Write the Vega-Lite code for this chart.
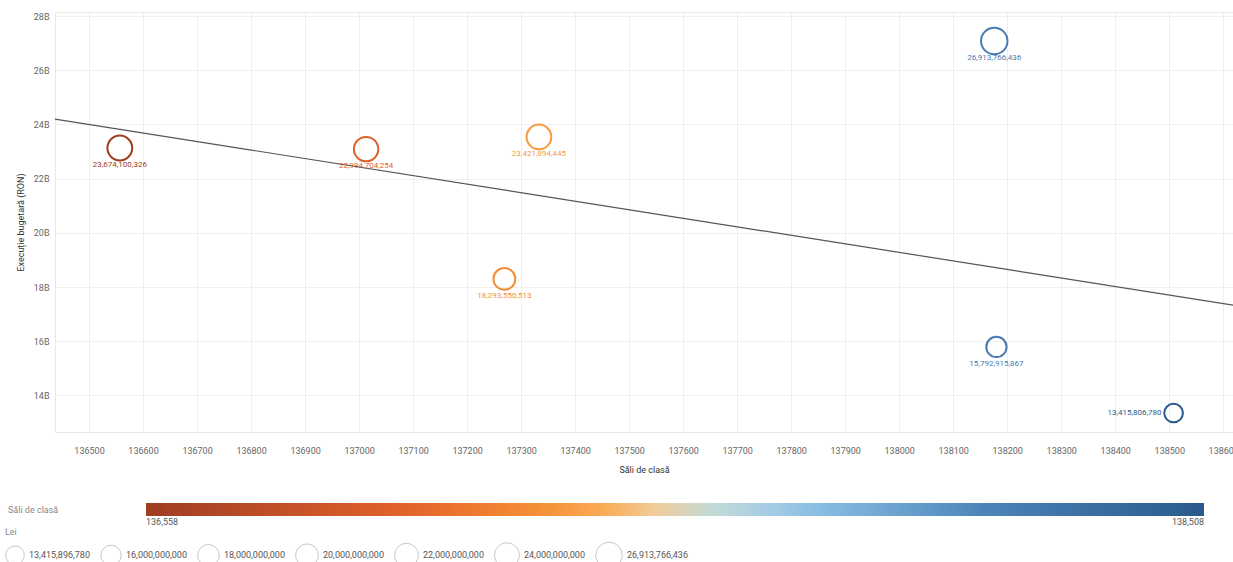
{
  "$schema": "https://vega.github.io/schema/vega-lite/v6.json",
  "width": 1178,
  "height": 420,
  "autosize": {"type": "none"},
  "padding": {"left": 55, "top": 12, "right": 0, "bottom": 130},
  "background": "white",
  "config": {
    "font": "Roboto",
    "view": {"stroke": "#e8e8e8"},
    "axis": {"labelFont": "Roboto", "titleFont": "Roboto", "labelColor": "#666666", "titleColor": "#333333", "labelFontSize": 9, "titleFontSize": 9, "titleFontWeight": "normal", "gridColor": "#efefef", "domain": false, "ticks": false},
    "legend": {"labelFont": "Roboto", "titleFont": "Roboto", "labelColor": "#555555", "titleColor": "#888888", "labelFontSize": 9, "titleFontSize": 9, "titleFontWeight": "normal"}
  },
  "data": {
    "values": [
      {"sali": 136557, "exec": 23130000000, "lei": 23674100326},
      {"sali": 137013, "exec": 23090000000, "lei": 22994704254},
      {"sali": 137333, "exec": 23540000000, "lei": 23421894445},
      {"sali": 137269, "exec": 18300000000, "lei": 18293550513},
      {"sali": 138176, "exec": 27080000000, "lei": 26913766436},
      {"sali": 138180, "exec": 15790000000, "lei": 15792915867},
      {"sali": 138508, "exec": 13350000000, "lei": 13415806780}
    ]
  },
  "encoding": {
    "x": {"field": "sali", "type": "quantitative", "title": "Săli de clasă",
      "scale": {"domain": [136437, 138618], "nice": false, "zero": false},
      "axis": {"values": [136500,136600,136700,136800,136900,137000,137100,137200,137300,137400,137500,137600,137700,137800,137900,138000,138100,138200,138300,138400,138500,138600], "format": "d", "labelPadding": 14, "titlePadding": 10, "labelOverlap": false}},
    "y": {"field": "exec", "type": "quantitative", "title": "Execuție bugetară (RON)",
      "scale": {"domain": [12650000000, 28150000000], "nice": false, "zero": false},
      "axis": {"values": [14000000000,16000000000,18000000000,20000000000,22000000000,24000000000,26000000000,28000000000], "labelExpr": "format(datum.value/1e9,'d') + 'B'", "labelPadding": 6, "titlePadding": 8}}
  },
  "resolve": {"scale": {"color": "independent"}, "legend": {"color": "independent"}},
  "layer": [
    {
      "mark": {"type": "line", "color": "#555555", "strokeWidth": 1.2},
      "transform": [{"regression": "exec", "on": "sali", "extent": [136437, 138618]}],
      "encoding": {}
    },
    {
      "mark": {"type": "point", "shape": "circle", "filled": false, "strokeWidth": 2, "opacity": 1},
      "encoding": {
        "color": {"field": "sali", "type": "quantitative",
          "scale": {"domain": [136558, 137045.5, 137338, 137474.5, 137533, 137630.5, 137767, 138118, 138508],
            "range": ["#9e3d22", "#e4642a", "#f99a3c", "#fbbf74", "#e3dcd0", "#c0d6e2", "#8fc3e6", "#4a82b8", "#2a5a8c"]},
          "legend": {"type": "gradient", "orient": "none", "direction": "horizontal", "legendX": -47, "legendY": 491, "gradientLength": 1058, "gradientThickness": 13, "gradientStrokeWidth": 0, "title": "Săli de clasă", "titleOrient": "left", "titlePadding": 87, "values": [136558, 138508], "format": ",d", "labelOverlap": false, "labelOffset": 2}},
        "size": {"field": "lei", "type": "quantitative",
          "scale": {"domain": [0, 26913766436], "range": [0, 700]},
          "legend": {"orient": "none", "direction": "horizontal", "legendX": -50, "legendY": 516, "title": "Lei", "values": [13415896780, 16000000000, 18000000000, 20000000000, 22000000000, 24000000000, 26913766436], "format": ",d", "symbolFillColor": "#e4e4e4", "symbolStrokeColor": "#c8c8c8", "symbolStrokeWidth": 1, "labelFontSize": 9, "columnPadding": 8, "titlePadding": 4}}
      }
    },
    {
      "transform": [{"filter": "datum.sali < 138400"}],
      "mark": {"type": "text", "fontSize": 8, "dy": 17, "baseline": "middle"},
      "encoding": {
        "text": {"field": "lei", "type": "quantitative", "format": ",d"},
        "color": {"field": "sali", "type": "quantitative", "legend": null,
          "scale": {"domain": [136558, 137045.5, 137338, 137474.5, 137533, 137630.5, 137767, 138118, 138508],
            "range": ["#9e3d22", "#e4642a", "#f99a3c", "#fbbf74", "#e3dcd0", "#c0d6e2", "#8fc3e6", "#4a82b8", "#2a5a8c"]}}
      }
    },
    {
      "transform": [{"filter": "datum.sali >= 138400"}],
      "mark": {"type": "text", "fontSize": 8, "dx": -12, "align": "right", "baseline": "middle"},
      "encoding": {
        "text": {"field": "lei", "type": "quantitative", "format": ",d"},
        "color": {"field": "sali", "type": "quantitative", "legend": null,
          "scale": {"domain": [136558, 137045.5, 137338, 137474.5, 137533, 137630.5, 137767, 138118, 138508],
            "range": ["#9e3d22", "#e4642a", "#f99a3c", "#fbbf74", "#e3dcd0", "#c0d6e2", "#8fc3e6", "#4a82b8", "#2a5a8c"]}}
      }
    }
  ]
}
